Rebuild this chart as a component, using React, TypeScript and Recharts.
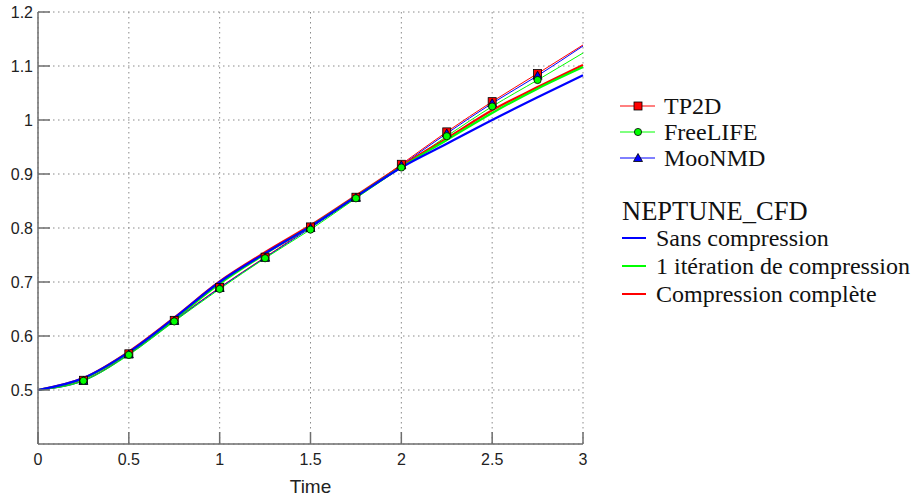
import { LineChart, Line, XAxis, YAxis, CartesianGrid } from 'recharts';

// sampling times (s)
const times = [0, 0.25, 0.5, 0.75, 1, 1.25, 1.5, 1.75, 2, 2.25, 2.5, 2.75, 3];

// NEPTUNE_CFD runs
const sansCompression = [0.5, 0.522, 0.57, 0.633, 0.7, 0.753, 0.803, 0.858, 0.912, 0.956, 1.0, 1.042, 1.083];
const uneIteration = [0.5, 0.521, 0.569, 0.631, 0.697, 0.752, 0.803, 0.858, 0.913, 0.963, 1.013, 1.058, 1.098];
const compressionComplete = [0.5, 0.522, 0.571, 0.634, 0.701, 0.755, 0.805, 0.86, 0.915, 0.966, 1.018, 1.061, 1.102];

// reference codes
const tp2d = [0.5, 0.518, 0.567, 0.629, 0.69, 0.746, 0.802, 0.857, 0.918, 0.978, 1.034, 1.086, 1.139];
const freeLife = [0.5, 0.517, 0.565, 0.627, 0.687, 0.744, 0.797, 0.855, 0.912, 0.97, 1.025, 1.074, 1.124];
const mooNmd = [0.5, 0.517, 0.566, 0.628, 0.689, 0.745, 0.8, 0.856, 0.916, 0.975, 1.031, 1.082, 1.137];

const xTicks = [0, 0.5, 1, 1.5, 2, 2.5, 3];
const yTicks = [0.5, 0.6, 0.7, 0.8, 0.9, 1.0, 1.1, 1.2];

const data = times.map((t, i) => ({
  t,
  sans: sansCompression[i],
  iter: uneIteration[i],
  full: compressionComplete[i],
  tp2d: tp2d[i],
  free: freeLife[i],
  moo: mooNmd[i],
}));

const AXIS = '#6e6e6e';
const TICK_FONT = '"Liberation Sans", Arial, sans-serif';
const SERIF = '"Liberation Serif", "Times New Roman", serif';
const fmt = (v: number) => String(Number(v.toFixed(2)));

const last = times.length - 1;

const Square = ({ cx, cy, fill }: any) => (
  <rect x={cx - 4} y={cy - 4} width={8} height={8} fill={fill} stroke="#000" strokeWidth={0.8} />
);
const Dot = ({ cx, cy, fill }: any) => (
  <circle cx={cx} cy={cy} r={3.6} fill={fill} stroke="#000" strokeWidth={0.8} />
);
const Tri = ({ cx, cy, fill }: any) => (
  <polygon points={`${cx},${cy - 4.5} ${cx - 4.5},${cy + 3.5} ${cx + 4.5},${cy + 3.5}`} fill={fill} stroke="#000" strokeWidth={0.8} />
);

// markers only on interior samples
const markerDot = (Shape: any, fill: string) => (props: any) => {
  const { index, cx, cy, key } = props;
  if (index === 0 || index === last) return <g key={key} />;
  return <Shape key={key} cx={cx} cy={cy} fill={fill} />;
};

const BottomTick = ({ x, y, payload }: any) => (
  <g>
    <line x1={x} y1={y} x2={x} y2={y - 12} stroke={AXIS} strokeWidth={1.5} />
    <text x={x} y={y + 21} textAnchor="middle" style={{ fontSize: 16, fontFamily: TICK_FONT }} fill="#222">
      {fmt(payload.value)}
    </text>
  </g>
);

const LeftTick = ({ x, y, payload }: any) => (
  <g>
    <line x1={x} y1={y} x2={x + 12} y2={y} stroke={AXIS} strokeWidth={1.5} />
    <text x={x - 5} y={y + 6} textAnchor="end" style={{ fontSize: 16, fontFamily: TICK_FONT }} fill="#222">
      {fmt(payload.value)}
    </text>
  </g>
);

const RightTick = ({ x, y }: any) => (
  <line x1={x} y1={y} x2={x - 12} y2={y} stroke={AXIS} strokeWidth={1.5} />
);

const Legend = () => (
  <svg width={921} height={500} style={{ position: 'absolute', left: 0, top: 0, pointerEvents: 'none' }}>
    <g style={{ fontFamily: SERIF, fontSize: 24 }} fill="#111">
      <line x1={620} x2={655} y1={106} y2={106} stroke="#ff0000" strokeWidth={1} />
      <Square cx={638} cy={106} fill="#ff0000" />
      <text x={664} y={114}>TP2D</text>

      <line x1={620} x2={655} y1={132} y2={132} stroke="#00ff00" strokeWidth={1} />
      <Dot cx={638} cy={132} fill="#00ff00" />
      <text x={664} y={140}>FreeLIFE</text>

      <line x1={620} x2={655} y1={158} y2={158} stroke="#0000ff" strokeWidth={1} />
      <Tri cx={638} cy={158} fill="#0000ff" />
      <text x={664} y={166}>MooNMD</text>

      <text x={622} y={220} style={{ fontSize: 26.5 }}>NEPTUNE_CFD</text>

      <line x1={622} x2={646} y1={238} y2={238} stroke="#0000ff" strokeWidth={2} />
      <text x={656} y={246}>Sans compression</text>

      <line x1={622} x2={646} y1={266} y2={266} stroke="#00ff00" strokeWidth={2} />
      <text x={656} y={274}>1 itération de compression</text>

      <line x1={622} x2={646} y1={294} y2={294} stroke="#ff0000" strokeWidth={2} />
      <text x={656} y={302}>Compression complète</text>
    </g>
  </svg>
);

export default function App() {
  return (
    <div style={{ position: 'absolute', left: 0, top: 0, width: 921, height: 500, background: '#fff' }}>
      <LineChart width={921} height={500} data={data} margin={{ top: 12, right: 0, bottom: 0, left: 0 }}>
        <CartesianGrid stroke="#8a8a8a" strokeDasharray="1.5 3.5" strokeWidth={1} />
        <XAxis
          dataKey="t"
          type="number"
          domain={[0, 3]}
          ticks={xTicks}
          height={56}
          tickLine={false}
          tickSize={0}
          tickMargin={0}
          axisLine={{ stroke: AXIS, strokeWidth: 1.5 }}
          tick={BottomTick}
          interval={0}
          label={{ value: 'Time', position: 'insideBottom', offset: 7, style: { fontSize: 19, fontFamily: TICK_FONT }, fill: '#222' }}
        />
        <YAxis
          type="number"
          domain={[0.4, 1.2]}
          ticks={yTicks}
          width={38}
          tickLine={false}
          tickSize={0}
          tickMargin={0}
          axisLine={{ stroke: AXIS, strokeWidth: 1.5 }}
          tick={LeftTick}
          interval={0}
        />
        <YAxis
          yAxisId="right"
          orientation="right"
          type="number"
          domain={[0.4, 1.2]}
          ticks={yTicks}
          width={338}
          tickLine={false}
          tickSize={0}
          tickMargin={0}
          axisLine={false}
          tick={RightTick}
          interval={0}
        />

        <Line type="monotone" dataKey="tp2d" stroke="#ff0000" strokeWidth={1} dot={markerDot(Square, '#ff0000')} isAnimationActive={false} />
        <Line type="monotone" dataKey="moo" stroke="#0000ff" strokeWidth={1} dot={markerDot(Tri, '#0000ff')} isAnimationActive={false} />
        <Line type="monotone" dataKey="free" stroke="#00ff00" strokeWidth={1} dot={markerDot(Dot, '#00ff00')} isAnimationActive={false} />

        <Line type="monotone" dataKey="full" stroke="#ff0000" strokeWidth={2.2} dot={false} isAnimationActive={false} />
        <Line type="monotone" dataKey="iter" stroke="#00ff00" strokeWidth={2.2} dot={false} isAnimationActive={false} />
        <Line type="monotone" dataKey="sans" stroke="#0000ff" strokeWidth={2.2} dot={false} isAnimationActive={false} />
      </LineChart>
      <Legend />
    </div>
  );
}
